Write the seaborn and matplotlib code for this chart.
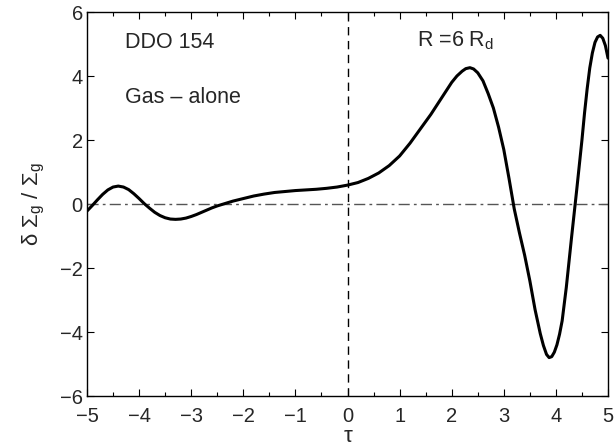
import numpy as np
import pandas as pd
import matplotlib
matplotlib.use("Agg")
import matplotlib.pyplot as plt
from matplotlib.ticker import MultipleLocator
import seaborn as sns

tau = [-5.0, -4.9, -4.8, -4.7, -4.6, -4.5, -4.4, -4.3, -4.2, -4.1, -4.0, -3.9, -3.8,
       -3.7, -3.6, -3.5, -3.4, -3.3, -3.2, -3.1, -3.0, -2.9, -2.8, -2.7, -2.6, -2.5,
       -2.4, -2.3, -2.2, -2.0, -1.8, -1.6, -1.4, -1.2, -1.0, -0.8, -0.6, -0.4, -0.2,
       0.0, 0.2, 0.4, 0.6, 0.8, 1.0, 1.2, 1.4, 1.6, 1.8, 2.0, 2.1, 2.2, 2.27, 2.35,
       2.42, 2.5, 2.6, 2.7, 2.8, 2.9, 3.0, 3.1, 3.2, 3.3, 3.4, 3.5, 3.6, 3.7, 3.76, 3.82,
       3.87, 3.92, 3.97, 4.02, 4.07, 4.12, 4.2, 4.3, 4.4, 4.5, 4.55, 4.6, 4.65, 4.7,
       4.75, 4.8, 4.85, 4.9, 4.95, 5.0]
sigma = [-0.22, -0.05, 0.13, 0.30, 0.44, 0.53, 0.56, 0.53, 0.45, 0.32, 0.17, 0.01, -0.13,
         -0.26, -0.36, -0.43, -0.47, -0.48, -0.47, -0.44, -0.39, -0.33, -0.26, -0.19, -0.12, -0.06,
         -0.01, 0.04, 0.09, 0.17, 0.25, 0.31, 0.36, 0.39, 0.42, 0.44, 0.46, 0.49, 0.53,
         0.59, 0.67, 0.80, 0.97, 1.2, 1.5, 1.9, 2.35, 2.8, 3.3, 3.8, 4.0, 4.15, 4.23, 4.26,
         4.22, 4.1, 3.85, 3.45, 3.0, 2.4, 1.7, 0.8, -0.15, -0.9, -1.6, -2.4, -3.3, -4.05, -4.42, -4.7,
         -4.8, -4.77, -4.63, -4.4, -4.07, -3.65, -2.6, -1.05, 0.45, 2.0, 2.85, 3.6, 4.25, 4.72,
         5.05, 5.22, 5.27, 5.18, 4.95, 4.56]

xticks = [-5, -4, -3, -2, -1, 0, 1, 2, 3, 4, 5]
yticks = [-6, -4, -2, 0, 2, 4, 6]

sns.set_style("ticks")
plt.rcParams['font.family'] = ['Liberation Sans', 'DejaVu Sans']
plt.rcParams['mathtext.fontset'] = 'custom'
plt.rcParams['mathtext.rm'] = 'Liberation Sans'
plt.rcParams['mathtext.it'] = 'Liberation Sans:italic'

df = pd.DataFrame({"tau": tau, "sigma": sigma})

fig = plt.figure(figsize=(6.15, 4.47), dpi=100)
ax = fig.add_axes([87/615, 1 - 396/447, (608-87)/615, (396-12)/447])

ax.axhline(0, color="#555555", lw=1.0, ls=(0, (8, 3, 2, 3)), zorder=1)
ax.axvline(0, color="black", lw=1.0, ls=(0, (6, 4)), zorder=1)
sns.lineplot(data=df, x="tau", y="sigma", ax=ax, color="black", lw=2.2, zorder=3,
             sort=False, estimator=None)

ax.set_xlim(-5, 5)
ax.set_ylim(-6, 6)
ax.set_xticks(xticks)
ax.set_yticks(yticks)
ax.set_xticklabels([str(t).replace('-', '\u2212') for t in xticks])
ax.set_yticklabels([str(t).replace('-', '\u2212') for t in yticks])
ax.xaxis.set_minor_locator(MultipleLocator(0.5))
ax.tick_params(which='both', direction='in', top=True, right=True, labelsize=14.5,
               color='black')
ax.tick_params(axis='x', pad=8)
ax.tick_params(axis='y', pad=3)
ax.tick_params(which='major', length=5, width=0.8)
ax.tick_params(which='minor', length=3, width=0.8)
for s in ax.spines.values():
    s.set_linewidth(1.0)
    s.set_color('black')

ax.set_xlabel('\u03c4', fontsize=16, labelpad=0)
ax.set_ylabel('\u03b4 \u03a3$_{\\rm g}$ / \u03a3$_{\\rm g}$', fontsize=16, labelpad=9)

ax.text(-4.27, 5.06, "DDO 154", fontsize=15.5, va='center', ha='left')
ax.text(-4.27, 3.34, "Gas \u2013 alone", fontsize=15.5, va='center', ha='left')
ax.text(1.33, 5.1, r'R =6 R$_{\rm d}$', fontsize=15.5, va='center', ha='left')

fig.savefig("out.png", dpi=100)
